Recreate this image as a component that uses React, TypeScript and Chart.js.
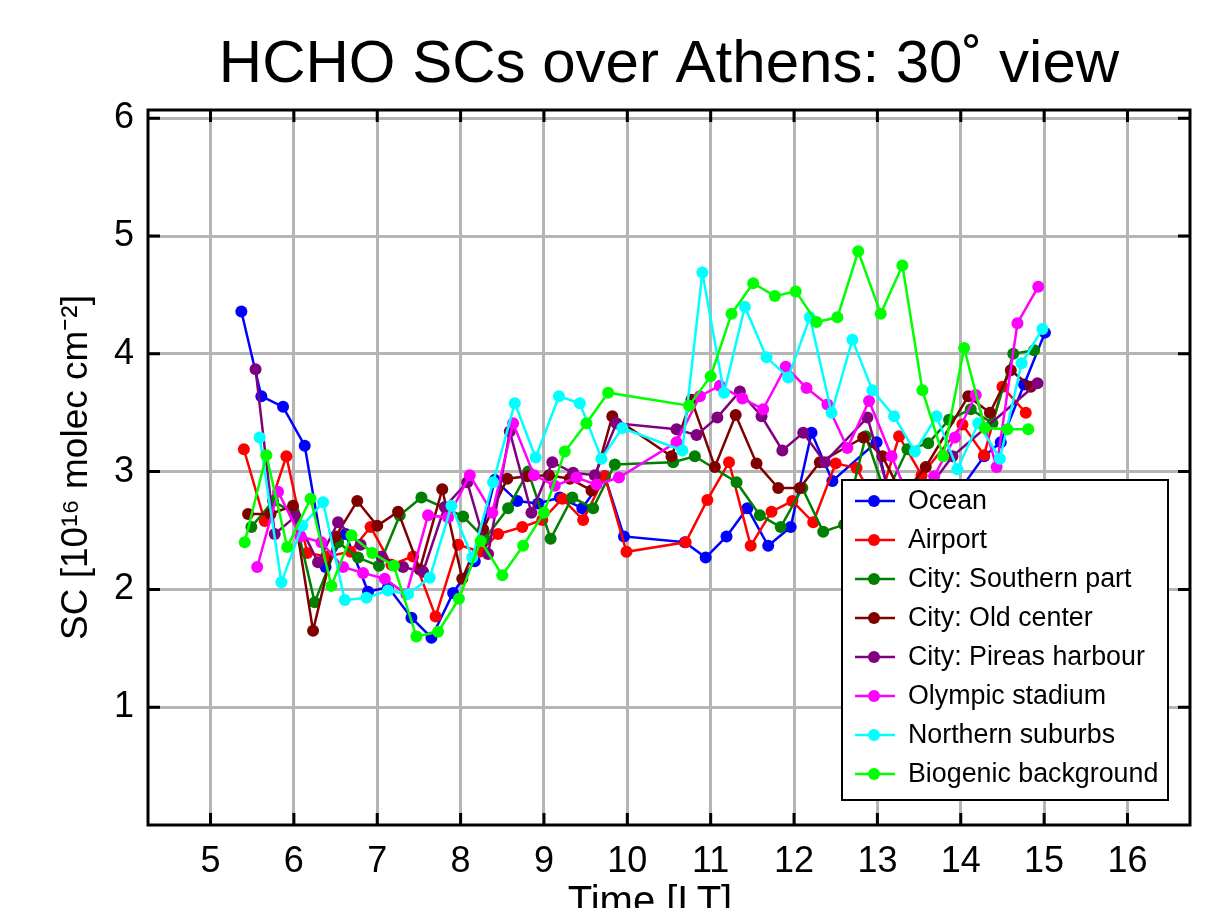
import React, { useEffect, useRef } from "react";
import { Chart, registerables } from "chart.js";

Chart.register(...registerables);

const FONT = "'Liberation Sans', Arial, Helvetica, sans-serif";

const TITLE = "HCHO SCs over Athens: 30˚ view";
const X_TITLE = "Time [LT]";
const Y_TITLE = "SC [10¹⁶ molec cm⁻²]";
const X_TICKS = [5, 6, 7, 8, 9, 10, 11, 12, 13, 14, 15, 16];
const Y_TICKS = [1, 2, 3, 4, 5, 6];

const SERIES_NAMES = [
  "Ocean",
  "Airport",
  "City: Southern part",
  "City: Old center",
  "City: Pireas harbour",
  "Olympic stadium",
  "Northern suburbs",
  "Biogenic background",
];
const SERIES_COLORS = ["#0000ff", "#ff0000", "#008000", "#800000", "#800080", "#ff00ff", "#00ffff", "#00ff00"];

const oceanX = [5.37, 5.61, 5.87, 6.13, 6.38, 6.62, 6.89, 7.13, 7.41, 7.65, 7.91, 8.17, 8.41, 8.68, 8.93, 9.19, 9.46, 9.73, 9.96, 10.69, 10.94, 11.19, 11.44, 11.69, 11.96, 12.21, 12.46, 12.99, 13.24, 13.74, 14.28, 14.48, 14.76, 15.01];
const oceanY = [4.36, 3.64, 3.55, 3.22, 2.19, 2.47, 1.98, 2.02, 1.76, 1.59, 1.97, 2.24, 2.93, 2.75, 2.73, 2.78, 2.69, 2.96, 2.45, 2.40, 2.27, 2.45, 2.69, 2.37, 2.53, 3.33, 2.92, 3.25, 2.5, 2.6, 3.13, 3.25, 3.74, 4.18];

const airportX = [5.40, 5.65, 5.91, 6.16, 6.40, 6.68, 6.92, 7.17, 7.43, 7.70, 7.97, 8.23, 8.45, 8.74, 8.98, 9.22, 9.47, 9.73, 9.99, 10.70, 10.96, 11.22, 11.48, 11.73, 11.98, 12.23, 12.50, 12.75, 13.0, 13.26, 13.53, 14.02, 14.28, 14.50, 14.78];
const airportY = [3.19, 2.58, 3.13, 2.31, 2.28, 2.32, 2.53, 2.21, 2.28, 1.77, 2.38, 2.32, 2.47, 2.53, 2.59, 2.77, 2.59, 2.96, 2.32, 2.40, 2.76, 3.08, 2.37, 2.66, 2.75, 2.57, 3.07, 3.03, 2.7, 3.30, 2.97, 3.40, 3.14, 3.72, 3.50];

const southX = [5.49, 5.75, 6.0, 6.25, 6.53, 6.77, 7.02, 7.27, 7.53, 8.03, 8.29, 8.57, 8.81, 9.08, 9.34, 9.59, 9.85, 10.55, 10.81, 11.31, 11.59, 11.84, 12.10, 12.35, 12.6, 12.86, 13.1, 13.36, 13.61, 13.86, 14.12, 14.38, 14.63, 14.88];
const southY = [2.53, 2.75, 2.65, 1.89, 2.40, 2.27, 2.20, 2.63, 2.78, 2.62, 2.43, 2.69, 3.0, 2.43, 2.78, 2.69, 3.06, 3.08, 3.13, 2.91, 2.63, 2.53, 2.86, 2.49, 2.55, 3.3, 2.8, 3.19, 3.24, 3.44, 3.53, 3.41, 4.00, 4.03];

const oldCenterX = [5.45, 5.72, 5.99, 6.23, 6.50, 6.76, 7.00, 7.25, 7.51, 7.78, 8.02, 8.27, 8.56, 8.80, 9.06, 9.31, 9.57, 9.82, 10.53, 10.77, 11.05, 11.30, 11.55, 11.81, 12.07, 12.31, 12.83, 13.06, 13.3, 13.58, 14.09, 14.35, 14.60, 14.84];
const oldCenterY = [2.64, 2.64, 2.71, 1.65, 2.45, 2.75, 2.54, 2.66, 2.17, 2.85, 2.09, 2.51, 2.94, 2.96, 2.97, 2.94, 2.84, 3.47, 3.13, 3.61, 3.04, 3.48, 3.07, 2.86, 2.86, 3.08, 3.29, 3.13, 2.8, 3.04, 3.64, 3.50, 3.86, 3.72];

const pireasX = [5.54, 5.77, 6.02, 6.29, 6.53, 6.80, 7.05, 7.31, 7.55, 7.81, 8.08, 8.33, 8.59, 8.85, 9.10, 9.35, 9.61, 9.87, 10.59, 10.83, 11.08, 11.35, 11.61, 11.86, 12.11, 12.37, 12.88, 13.15, 13.5, 13.90, 14.92];
const pireasY = [3.87, 2.47, 2.62, 2.23, 2.57, 2.38, 2.28, 2.19, 2.15, 2.70, 2.91, 2.30, 3.34, 2.65, 3.08, 2.99, 2.97, 3.41, 3.36, 3.31, 3.46, 3.68, 3.47, 3.18, 3.33, 3.08, 3.46, 2.8, 2.75, 3.13, 3.75];

const olympicX = [5.56, 5.81, 6.08, 6.33, 6.59, 6.83, 7.09, 7.35, 7.61, 7.85, 8.11, 8.38, 8.63, 8.88, 9.13, 9.39, 9.63, 9.90, 10.59, 10.87, 11.11, 11.38, 11.63, 11.90, 12.15, 12.40, 12.64, 12.90, 13.17, 13.42, 13.68, 13.93, 14.18, 14.43, 14.68, 14.93];
const olympicY = [2.19, 2.83, 2.45, 2.40, 2.19, 2.14, 2.09, 1.96, 2.63, 2.61, 2.97, 2.65, 3.41, 2.97, 2.88, 2.95, 2.89, 2.95, 3.25, 3.64, 3.73, 3.62, 3.53, 3.89, 3.71, 3.57, 3.20, 3.60, 3.13, 2.7, 2.96, 3.29, 3.65, 3.04, 4.26, 4.57];

const northX = [5.59, 5.85, 6.10, 6.35, 6.61, 6.87, 7.13, 7.37, 7.63, 7.89, 8.14, 8.39, 8.65, 8.90, 9.18, 9.43, 9.69, 9.94, 10.66, 10.90, 11.16, 11.41, 11.67, 11.93, 12.19, 12.45, 12.70, 12.94, 13.20, 13.45, 13.71, 13.96, 14.21, 14.47, 14.73, 14.98];
const northY = [3.29, 2.06, 2.54, 2.74, 1.91, 1.93, 1.99, 1.96, 2.10, 2.71, 2.27, 2.91, 3.58, 3.12, 3.64, 3.58, 3.11, 3.37, 3.18, 4.69, 3.67, 4.40, 3.97, 3.80, 4.31, 3.50, 4.12, 3.69, 3.47, 3.17, 3.47, 3.02, 3.41, 3.11, 3.92, 4.21];

const biogenicX = [5.41, 5.67, 5.92, 6.20, 6.45, 6.69, 6.94, 7.20, 7.47, 7.73, 7.98, 8.24, 8.50, 8.75, 9.00, 9.25, 9.51, 9.77, 10.74, 11.00, 11.25, 11.51, 11.77, 12.02, 12.27, 12.52, 12.77, 13.04, 13.30, 13.54, 13.79, 14.04, 14.29, 14.56, 14.81];
const biogenicY = [2.40, 3.14, 2.36, 2.77, 2.03, 2.46, 2.31, 2.20, 1.60, 1.64, 1.92, 2.41, 2.12, 2.37, 2.65, 3.17, 3.41, 3.67, 3.56, 3.81, 4.34, 4.60, 4.49, 4.53, 4.27, 4.31, 4.87, 4.34, 4.75, 3.69, 3.13, 4.05, 3.37, 3.36, 3.36];

const SERIES_X = [oceanX, airportX, southX, oldCenterX, pireasX, olympicX, northX, biogenicX];
const SERIES_Y = [oceanY, airportY, southY, oldCenterY, pireasY, olympicY, northY, biogenicY];

const framePlugin = {
  id: "frameTicks",
  beforeDatasetsDraw(chart: any) {
    const { ctx, chartArea } = chart;
    const { left, right, top, bottom } = chartArea;
    const xs = chart.scales.x;
    const ys = chart.scales.y;
    const len = 12;
    ctx.save();
    ctx.strokeStyle = "#000";
    ctx.lineWidth = 3;
    ctx.beginPath();
    X_TICKS.forEach((v) => {
      const px = xs.getPixelForValue(v);
      ctx.moveTo(px, top);
      ctx.lineTo(px, top + len);
      ctx.moveTo(px, bottom);
      ctx.lineTo(px, bottom - len);
    });
    Y_TICKS.forEach((v) => {
      const py = ys.getPixelForValue(v);
      ctx.moveTo(left, py);
      ctx.lineTo(left + len, py);
      ctx.moveTo(right, py);
      ctx.lineTo(right - len, py);
    });
    ctx.stroke();
    ctx.strokeRect(left, top, right - left, bottom - top);
    ctx.restore();
  },
  afterDraw(chart: any) {
    const { ctx, chartArea } = chart;
    ctx.save();
    // legend box inside the plot
    const bx = chartArea.right - 348;
    const by = chartArea.bottom - 345;
    const bw = 326;
    const bh = 320;
    ctx.fillStyle = "#fff";
    ctx.fillRect(bx, by, bw, bh);
    ctx.strokeStyle = "#000";
    ctx.lineWidth = 2;
    ctx.strokeRect(bx, by, bw, bh);
    ctx.font = `26.8px ${FONT}`;
    ctx.textBaseline = "middle";
    ctx.textAlign = "left";
    chart.data.datasets.forEach((ds: any, i: number) => {
      const cy = by + 21 + i * 39;
      ctx.strokeStyle = ds.borderColor;
      ctx.lineWidth = 2.5;
      ctx.beginPath();
      ctx.moveTo(bx + 13, cy);
      ctx.lineTo(bx + 53, cy);
      ctx.stroke();
      ctx.fillStyle = ds.borderColor;
      ctx.beginPath();
      ctx.arc(bx + 32, cy, 6, 0, Math.PI * 2);
      ctx.fill();
      ctx.fillStyle = "#000";
      ctx.fillText(ds.label, bx + 66, cy + 1);
    });
    // x axis title (partially cut at the bottom edge, as in the original)
    ctx.font = `40px ${FONT}`;
    ctx.textAlign = "center";
    ctx.textBaseline = "alphabetic";
    ctx.fillStyle = "#000";
    ctx.fillText(X_TITLE, (chartArea.left + chartArea.right) / 2 - 19, 914);
    ctx.restore();
  },
};

export default function App() {
  const ref = useRef<HTMLCanvasElement | null>(null);

  useEffect(() => {
    if (!ref.current) return;
    const datasets = SERIES_NAMES.map((name, i) => ({
      label: name,
      data: SERIES_X[i].map((x, j) => ({ x, y: SERIES_Y[i][j] })),
      borderColor: SERIES_COLORS[i],
      backgroundColor: SERIES_COLORS[i],
      pointBackgroundColor: SERIES_COLORS[i],
      pointBorderColor: SERIES_COLORS[i],
      pointBorderWidth: 0,
      pointRadius: 6,
      borderWidth: 2.5,
      tension: 0,
      fill: false,
      showLine: true,
      order: SERIES_NAMES.length - i,
    }));
    const chart = new Chart(ref.current, {
      type: "line",
      data: { datasets },
      options: {
        responsive: false,
        animation: false,
        devicePixelRatio: 1,
        layout: { padding: { left: 0, right: 24, top: 0, bottom: 0 } },
        plugins: {
          legend: { display: false },
          tooltip: { enabled: false },
          title: {
            display: true,
            text: TITLE,
            fullSize: false,
            color: "#000",
            font: { family: FONT, size: 60, weight: "normal" },
            padding: { top: 29, bottom: 9 },
          },
        },
        scales: {
          x: {
            type: "linear",
            min: 4.25,
            max: 16.75,
            afterBuildTicks: (s: any) => {
              s.ticks = X_TICKS.map((v) => ({ value: v }));
            },
            afterFit: (s: any) => {
              s.height = 83;
            },
            grid: { color: "#b5b5b5", lineWidth: 3, drawTicks: false },
            border: { display: false },
            ticks: {
              color: "#000",
              font: { family: FONT, size: 36 },
              padding: 15,
              maxRotation: 0,
              autoSkip: false,
            },
          },
          y: {
            type: "linear",
            min: 0,
            max: 6.07,
            afterBuildTicks: (s: any) => {
              s.ticks = Y_TICKS.map((v) => ({ value: v }));
            },
            afterFit: (s: any) => {
              s.width = 148;
            },
            grid: { color: "#b5b5b5", lineWidth: 3, drawTicks: false },
            border: { display: false },
            ticks: {
              color: "#000",
              font: { family: FONT, size: 36 },
              padding: 14,
              autoSkip: false,
            },
            title: {
              display: true,
              text: Y_TITLE,
              color: "#000",
              font: { family: FONT, size: 37 },
              padding: { top: 55, bottom: 0 },
            },
          },
        },
      },
      plugins: [framePlugin],
    } as any);
    return () => chart.destroy();
  }, []);

  return (
    <div style={{ position: "absolute", left: 0, top: 0, width: 1214, height: 908, overflow: "hidden", background: "#fff" }}>
      <canvas ref={ref} width={1214} height={908} style={{ display: "block" }} />
    </div>
  );
}
